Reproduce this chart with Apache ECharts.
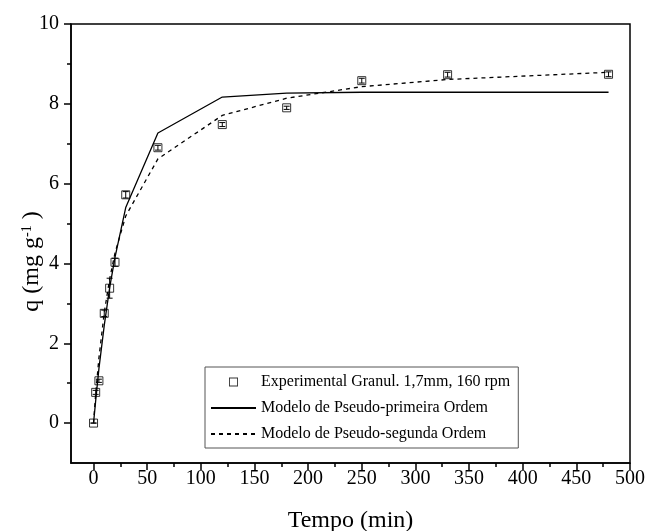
<!DOCTYPE html>
<html>
<head>
<meta charset="utf-8">
<script src="https://cdn.jsdelivr.net/npm/echarts@6/dist/echarts.min.js"></script>
<style>
  html, body { margin: 0; padding: 0; background: #fff; }
  #chart { width: 651px; height: 531px; }
</style>
</head>
<body>
<div id="chart"></div>
<script>
// tempo (min) e capacidade q (mg/g)
const timeMin = [0, 2, 5, 10, 15, 20, 30, 60, 120, 180, 250, 330, 480];
const qExp = [0, 0.77, 1.06, 2.75, 3.38, 4.03, 5.72, 6.90, 7.48, 7.90, 8.58, 8.73, 8.74];
const qErr = [0, 0.05, 0.04, 0.08, 0.25, 0.10, 0.08, 0.06, 0.05, 0.04, 0.06, 0.06, 0.06];
const qPrimeira = [0, 0.56, 1.36, 2.45, 3.39, 4.15, 5.40, 7.27, 8.17, 8.27, 8.29, 8.29, 8.29];
const qSegunda = [0, 0.73, 1.63, 2.77, 3.61, 4.26, 5.19, 6.62, 7.71, 8.14, 8.43, 8.61, 8.79];

const xMajor = [0, 50, 100, 150, 200, 250, 300, 350, 400, 450, 500];
const xMinor = [25, 75, 125, 175, 225, 275, 325, 375, 425, 475];
const yMajor = [0, 2, 4, 6, 8, 10];
const yMinor = [1, 3, 5, 7, 9];

const serif = 'Liberation Serif';
const names = [
  'Experimental Granul. 1,7mm, 160 rpm',
  'Modelo de Pseudo-primeira Ordem',
  'Modelo de Pseudo-segunda Ordem'
];

const pairs = (ys) => timeMin.map((t, i) => [t, ys[i]]);
const errData = timeMin.map((t, i) => [t, qExp[i] - qErr[i], qExp[i] + qErr[i]]);

const chart = echarts.init(document.getElementById('chart'));

const xBase = {
  type: 'value', min: -21, max: 500, position: 'bottom', gridIndex: 0,
  splitLine: { show: false }
};
const yBase = {
  type: 'value', min: -1, max: 10, position: 'left', gridIndex: 0,
  splitLine: { show: false }
};
const tickStyle = { color: '#000', width: 1.5 };

chart.setOption({
  animation: false,
  textStyle: { fontFamily: serif, color: '#000' },
  grid: {
    left: 71, right: 21, top: 24, bottom: 68,
    containLabel: false,
    outerBoundsMode: 'none',
    show: true, borderColor: '#000', borderWidth: 1.5, backgroundColor: 'transparent'
  },
  legend: {
    orient: 'vertical',
    left: 205, top: 367,
    padding: [6, 8, 5, 5],
    itemGap: 8,
    itemWidth: 45,
    itemHeight: 9,
    borderColor: '#555', borderWidth: 1,
    textStyle: { fontFamily: serif, fontSize: 16, color: '#000', lineHeight: 18 },
    data: [
      {
        name: names[0],
        icon: 'path://M1,0 L9,0 L9,8 L1,8 Z M1.8,0.8 L1.8,7.2 L8.2,7.2 L8.2,0.8 Z',
        itemStyle: { color: '#000', borderWidth: 0 }
      },
      { name: names[1], itemStyle: { opacity: 0 } },
      { name: names[2], itemStyle: { opacity: 0 } }
    ]
  },
  xAxis: [
    Object.assign({}, xBase, {
      name: 'Tempo (min)',
      nameLocation: 'middle',
      nameGap: 46,
      nameTextStyle: { fontFamily: serif, fontSize: 24, color: '#000' },
      axisLine: { onZero: false, lineStyle: tickStyle },
      axisTick: { customValues: xMajor, length: 7, lineStyle: tickStyle },
      axisLabel: { customValues: xMajor, margin: 6, fontFamily: serif, fontSize: 20, color: '#000' }
    }),
    Object.assign({}, xBase, {
      axisLine: { show: false, onZero: false },
      axisTick: { customValues: xMinor, length: 4, lineStyle: tickStyle },
      axisLabel: { show: false }
    })
  ],
  yAxis: [
    Object.assign({}, yBase, {
      name: 'q (mg g{sup|-1} )',
      nameLocation: 'middle',
      nameGap: 27,
      nameMoveOverlap: false,
      nameTextStyle: {
        fontFamily: serif, fontSize: 24, color: '#000',
        padding: [0, 36, 0, 0],
        rich: { sup: { fontFamily: serif, fontSize: 14, verticalAlign: 'top', padding: [0, 0, 10, 0] } }
      },
      axisLine: { onZero: false, lineStyle: tickStyle },
      axisTick: { customValues: yMajor, length: 7, lineStyle: tickStyle },
      axisLabel: { customValues: yMajor, margin: 12, fontFamily: serif, fontSize: 20, color: '#000' }
    }),
    Object.assign({}, yBase, {
      axisLine: { show: false, onZero: false },
      axisTick: { customValues: yMinor, length: 4, lineStyle: tickStyle },
      axisLabel: { show: false }
    })
  ],
  series: [
    {
      name: names[1],
      type: 'line',
      data: pairs(qPrimeira),
      symbol: 'none',
      lineStyle: { color: '#000', width: 1.3 },
      itemStyle: { color: '#000' },
      z: 2
    },
    {
      name: names[2],
      type: 'line',
      data: pairs(qSegunda),
      symbol: 'none',
      lineStyle: { color: '#000', width: 1.3, type: [4, 4] },
      itemStyle: { color: '#000' },
      z: 2
    },
    {
      name: names[0] + ' err',
      type: 'custom',
      data: errData,
      z: 3,
      renderItem: function (params, api) {
        const lo = api.coord([api.value(0), api.value(1)]);
        const hi = api.coord([api.value(0), api.value(2)]);
        const w = 3;
        const st = { stroke: '#000', lineWidth: 1 };
        return {
          type: 'group',
          children: [
            { type: 'line', shape: { x1: lo[0], y1: lo[1], x2: hi[0], y2: hi[1] }, style: st },
            { type: 'line', shape: { x1: lo[0] - w, y1: lo[1], x2: lo[0] + w, y2: lo[1] }, style: st },
            { type: 'line', shape: { x1: hi[0] - w, y1: hi[1], x2: hi[0] + w, y2: hi[1] }, style: st }
          ]
        };
      }
    },
    {
      name: names[0],
      type: 'scatter',
      data: pairs(qExp),
      symbol: 'rect',
      symbolSize: 8,
      itemStyle: { color: 'rgba(255,255,255,0)', borderColor: '#000', borderWidth: 1 },
      z: 4
    }
  ]
});
</script>
</body>
</html>
